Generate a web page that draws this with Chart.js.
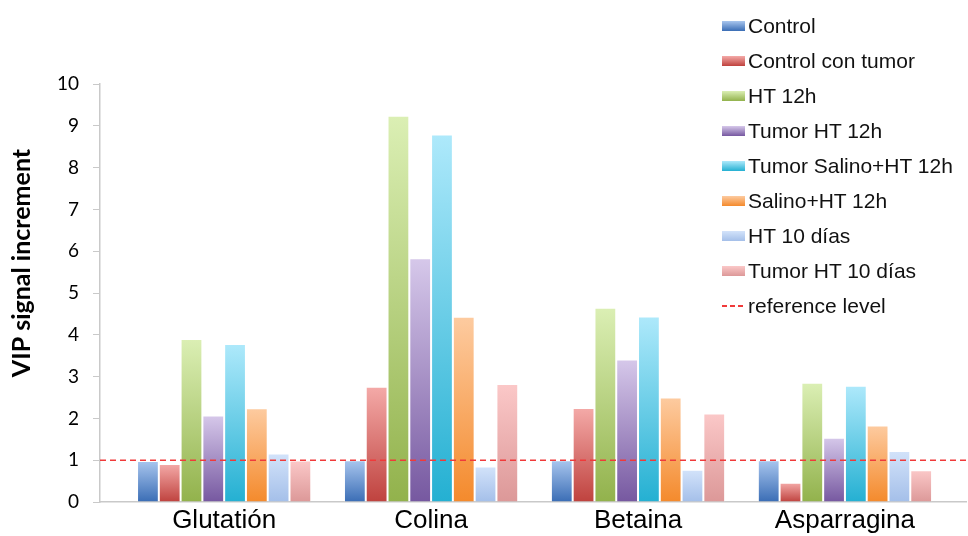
<!DOCTYPE html>
<html>
<head>
<meta charset="utf-8">
<script src="https://cdn.jsdelivr.net/npm/chart.js@4.4.1/dist/chart.umd.min.js"></script>
<style>
  html, body { margin: 0; padding: 0; background: #fff; }
  #wrap { position: relative; width: 968px; height: 536px; }
  #legend {
    position: absolute; left: 722px; top: 8px;
    font-family: "Liberation Sans", Arial, sans-serif; font-size: 21px; color: #111;
  }
  .row { height: 35px; display: flex; align-items: center; white-space: nowrap; }
  .sw { width: 23px; height: 10px; margin-right: 3px; flex: none; }
  .dash { width: 23px; height: 2px; margin-right: 3px; flex: none;
    background: repeating-linear-gradient(to right, #f03a3a 0 5px, transparent 5px 8px); }
</style>
</head>
<body>
<div id="wrap">
  <canvas id="chart" width="968" height="536"></canvas>
  <div id="legend"></div>
</div>
<script>
// data
const categories = ["Glutatión", "Colina", "Betaina", "Asparragina"];
const seriesNames = ["Control", "Control con tumor", "HT 12h", "Tumor HT 12h",
  "Tumor Salino+HT 12h", "Salino+HT 12h", "HT 10 días", "Tumor HT 10 días"];
const control = [0.98, 1.0, 1.0, 1.0];
const controlTumor = [0.91, 2.76, 2.25, 0.46];
const ht12 = [3.9, 9.24, 4.65, 2.85];
const tumorHt12 = [2.07, 5.83, 3.41, 1.54];
const tumorSalinoHt12 = [3.78, 8.79, 4.44, 2.78];
const salinoHt12 = [2.24, 4.43, 2.5, 1.83];
const ht10 = [1.16, 0.85, 0.77, 1.22];
const tumorHt10 = [0.99, 2.82, 2.12, 0.76];
const referenceLevel = 1;
const refLabel = "reference level";
const yTicks = [0, 1, 2, 3, 4, 5, 6, 7, 8, 9, 10];
const yTitle = "VIP signal increment";

const allValues = [control, controlTumor, ht12, tumorHt12, tumorSalinoHt12, salinoHt12, ht10, tumorHt10];

// gradient colours, top -> bottom
const colours = [
  ["#a9c6ee", "#3a6db5"],
  ["#f4aaa8", "#bf423e"],
  ["#dbefb4", "#92b24c"],
  ["#d6c8ea", "#7658a0"],
  ["#aee9fb", "#24b0d2"],
  ["#fdcba0", "#f48a2c"],
  ["#d3e3fa", "#a4bfe9"],
  ["#fbc8c8", "#dc9898"]
];

const xMin = 0.4, xMax = 4.585;

function barFill(top, bottom) {
  return function (ctx) {
    const chart = ctx.chart;
    if (!chart.chartArea || ctx.type !== "data") return bottom;
    const y = chart.scales.y;
    const v = ctx.raw ? ctx.raw.y : 0;
    const g = chart.ctx.createLinearGradient(0, y.getPixelForValue(v), 0, y.getPixelForValue(0));
    g.addColorStop(0, top);
    g.addColorStop(1, bottom);
    return g;
  };
}

const datasets = allValues.map((vals, i) => ({
  type: "bar",
  label: seriesNames[i],
  data: vals.map((v, j) => ({ x: j + 1, y: v })),
  backgroundColor: barFill(colours[i][0], colours[i][1]),
  borderColor: "rgba(255,255,255,0.35)",
  borderWidth: 1,
  categoryPercentage: 0.842,
  barPercentage: 1,
  order: 1
}));

datasets.push({
  type: "line",
  label: refLabel,
  data: [{ x: xMin, y: referenceLevel }, { x: xMax, y: referenceLevel }],
  borderColor: "#f03a3a",
  borderWidth: 1.6,
  borderDash: [6, 4],
  pointRadius: 0,
  order: 0,
  clip: false
});

// y axis title, placed like the original
const yTitlePlugin = {
  id: "yTitle",
  afterDraw(chart) {
    const c = chart.ctx;
    c.save();
    c.translate(22, 263);
    c.rotate(-Math.PI / 2);
    c.font = "bold 25px Lato";
    c.textAlign = "center";
    c.textBaseline = "middle";
    c.fillStyle = "#000";
    c.fillText(yTitle, 0, 0);
    c.restore();
  }
};

new Chart(document.getElementById("chart"), {
  data: { datasets: datasets },
  options: {
    responsive: false,
    animation: false,
    layout: { padding: { top: 84, right: 2, left: 0, bottom: 0 } },
    plugins: { legend: { display: false }, tooltip: { enabled: false } },
    scales: {
      x: {
        type: "linear",
        offset: false,
        min: xMin,
        max: xMax,
        afterBuildTicks: (scale) => {
          scale.ticks = categories.map((c, i) => ({ value: i + 1 }));
        },
        afterFit: (scale) => { scale.height = 34; },
        grid: { drawOnChartArea: false, drawTicks: false, offset: false },
        border: { color: "#c9c9c9", width: 1.5 },
        ticks: {
          autoSkip: false,
          maxRotation: 0,
          padding: 3,
          color: "#000",
          font: { family: "Liberation Sans", size: 26 },
          callback: (v) => categories[v - 1]
        }
      },
      y: {
        min: 0,
        max: 10,
        afterBuildTicks: (scale) => {
          scale.ticks = yTicks.map((v) => ({ value: v }));
        },
        afterFit: (scale) => { scale.width = 100; },
        grid: { drawOnChartArea: false, drawTicks: true, tickLength: 7, color: "#c9c9c9" },
        border: { color: "#c9c9c9", width: 1.5 },
        ticks: {
          padding: 14,
          color: "#000",
          font: { family: "Lato", size: 19 }
        }
      }
    }
  },
  plugins: [yTitlePlugin]
});

// legend
const legend = document.getElementById("legend");
seriesNames.forEach((name, i) => {
  const row = document.createElement("div");
  row.className = "row";
  const sw = document.createElement("span");
  sw.className = "sw";
  sw.style.background = "linear-gradient(to bottom, " + colours[i][0] + ", " + colours[i][1] + ")";
  row.appendChild(sw);
  row.appendChild(document.createTextNode(name));
  legend.appendChild(row);
});
const refRow = document.createElement("div");
refRow.className = "row";
const dash = document.createElement("span");
dash.className = "dash";
refRow.appendChild(dash);
refRow.appendChild(document.createTextNode(refLabel));
legend.appendChild(refRow);
</script>
</body>
</html>
